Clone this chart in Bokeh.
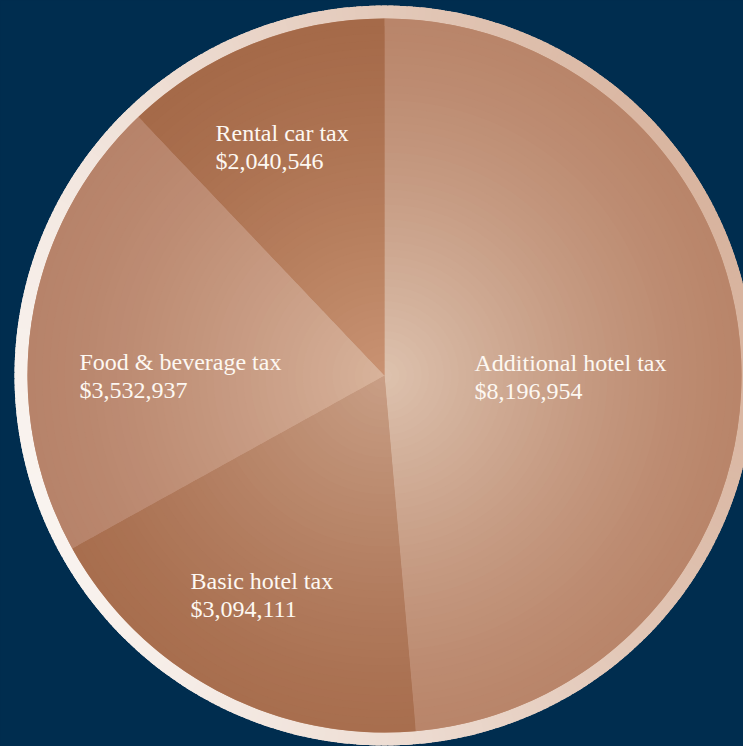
import numpy as np
from bokeh.plotting import figure
from bokeh.models import Range1d, ColumnDataSource
from bokeh.embed import file_html
from bokeh.resources import INLINE
from bokeh.core.properties import value

# ---- data ----
categories = ["Additional hotel tax", "Basic hotel tax", "Food & beverage tax", "Rental car tax"]
amounts = [8196954, 3094111, 3532937, 2040546]

# ---- styles ----
edge_colors = ["#b9856a", "#a86e4e", "#b7836a", "#a56a49"]
center_colors = ["#ddc2ae", "#c99f86", "#d8b39b", "#c99373"]
bg_color = "#002d4f"
ring_light = (0xfb, 0xf7, 0xf4)
ring_tan = (0xd1, 0xa6, 0x8d)
text_color = "#fdf8f2"

# ---- layout (pixels, top-down) ----
W, H = 743, 746
cx, cy_top = 384, 375
R = 357
R_ring = 370
label_left = [474, 190, 79, 215]
label_base = [362, 580, 361, 132]
line_gap = 28

cy = H - cy_top


def hex2rgb(h):
    h = h.lstrip("#")
    return tuple(int(h[i:i + 2], 16) for i in (0, 2, 4))


def mix(c1, c2, t):
    return "#%02x%02x%02x" % tuple(int(round(a + (b - a) * t)) for a, b in zip(c1, c2))


p = figure(width=W, height=H, x_range=Range1d(0, W), y_range=Range1d(0, H),
           output_backend="svg", toolbar_location=None, min_border=0)
p.axis.visible = False
p.grid.visible = False
p.outline_line_color = None
p.background_fill_color = bg_color
p.border_fill_color = bg_color

# ---- ring (linear gradient emulated by segments) ----
seg = 1.0
phis = np.arange(0, 360, seg)
ring_cols = []
for ph in phis:
    a = np.deg2rad(ph + seg / 2)
    t = 0.44 + 0.365 * np.cos(a) + 0.13 * np.sin(a)
    ring_cols.append(mix(ring_light, ring_tan, min(max(t, 0), 1)))
ring_src = ColumnDataSource(dict(
    x=[cx] * len(phis), y=[cy] * len(phis),
    s=np.deg2rad(phis - 0.4), e=np.deg2rad(phis + seg + 0.4), c=ring_cols))
p.annular_wedge(x="x", y="y", inner_radius=R - 2, outer_radius=R_ring,
                start_angle="s", end_angle="e", fill_color="c", line_color=None,
                source=ring_src)

# ---- pie slices (radial gradient emulated by concentric wedges) ----
total = float(sum(amounts))
cw_start = np.concatenate([[0], np.cumsum(amounts)[:-1]]) / total * 360.0
cw_end = np.cumsum(amounts) / total * 360.0
start_math = 90.0 - cw_end
end_math = 90.0 - cw_start

# base disc under the slices to hide seams
p.wedge(x=[cx], y=[cy], radius=R, start_angle=[0], end_angle=[2 * np.pi],
        fill_color="#bf8d71", line_color=None)

N = 48
xs, ys, rs, ss, es, cs = [], [], [], [], [], []
for k in range(N):
    r_out = R * (1 - k / N)
    r_mid = r_out - R / (2 * N)
    t = (1 - r_mid / R) ** 1.3
    for i in range(len(amounts)):
        xs.append(cx)
        ys.append(cy)
        rs.append(r_out)
        ss.append(np.deg2rad(start_math[i]))
        es.append(np.deg2rad(end_math[i]))
        cs.append(mix(hex2rgb(edge_colors[i]), hex2rgb(center_colors[i]), t))
pie_src = ColumnDataSource(dict(x=xs, y=ys, r=rs, s=ss, e=es, c=cs))
p.wedge(x="x", y="y", radius="r", start_angle="s", end_angle="e",
        fill_color="c", line_color=None, source=pie_src)

# ---- labels ----
lbl_src = ColumnDataSource(dict(
    x=label_left,
    y1=[H - b for b in label_base],
    y2=[H - b - line_gap for b in label_base],
    name=categories,
    val=["${:,}".format(v) for v in amounts]))
for ycol, tcol in (("y1", "name"), ("y2", "val")):
    p.text(x="x", y=ycol, text=tcol, source=lbl_src,
           text_font=value("Liberation Serif"), text_font_size="24px",
           text_color=text_color, text_align="left", text_baseline="alphabetic")

html = file_html(p, INLINE)
style = "<style>html, body { margin: 0; padding: 0; background: #002d4f; overflow: hidden; }</style>"
html = html.replace("</head>", style + "</head>", 1)
open("out.html", "w").write(html)
